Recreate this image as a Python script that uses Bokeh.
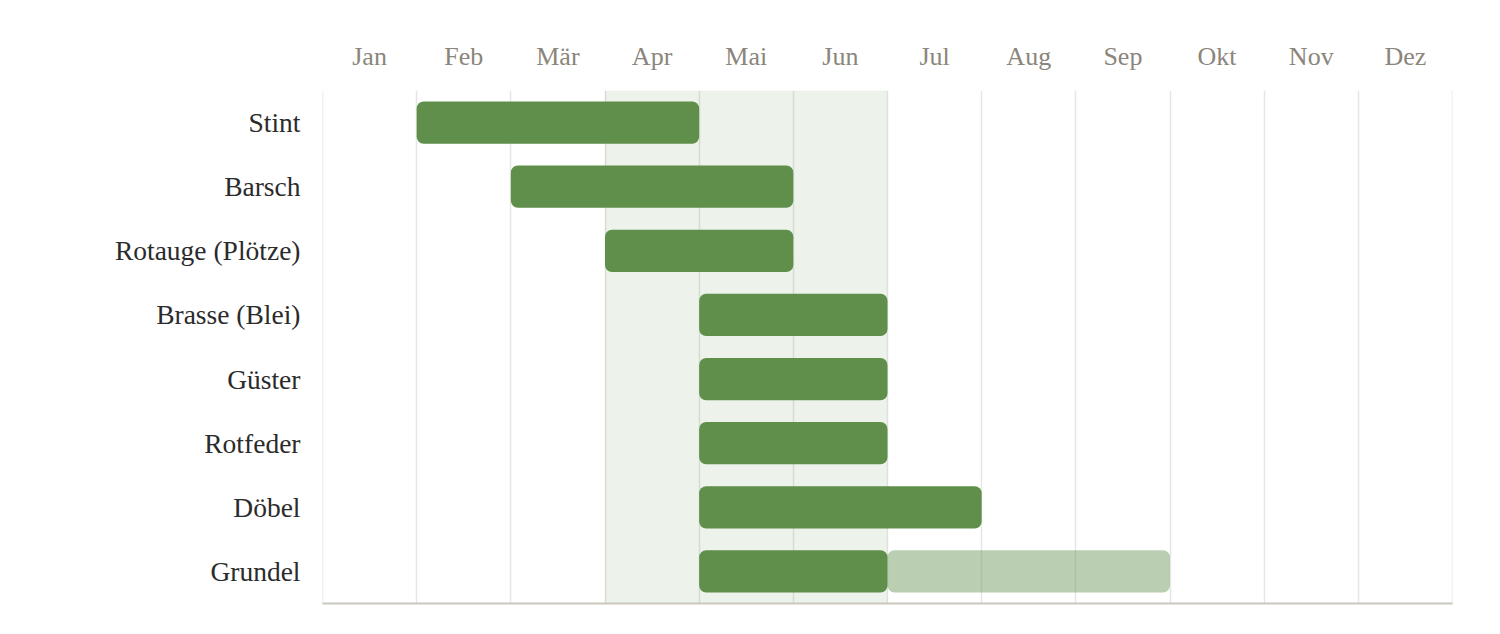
from bokeh.plotting import figure
from bokeh.models import FactorRange, FixedTicker, LinearAxis, Range1d, BoxAnnotation, Span
from bokeh.embed import file_html
from bokeh.resources import INLINE

months = ["Jan", "Feb", "Mär", "Apr", "Mai", "Jun", "Jul", "Aug", "Sep", "Okt", "Nov", "Dez"]
species = ["Stint", "Barsch", "Rotauge (Plötze)", "Brasse (Blei)", "Güster", "Rotfeder", "Döbel", "Grundel"]
# main spawning period: start month index (0 = Jan start), end month index
main_start = [1, 2, 3, 4, 4, 4, 4, 4]
main_end = [4, 5, 5, 6, 6, 6, 7, 6]
# extended period (Grundel)
ext_species = ["Grundel"]
ext_start = [6]
ext_end = [9]
# highlighted season (Apr - Jun)
band_start = 3
band_end = 6

GREEN = "#5f8f4a"
GRID = "#e6e6e6"

p = figure(width=1492, height=626, output_backend="svg", toolbar_location=None,
           x_range=Range1d(0, 12), y_range=FactorRange(factors=list(reversed(species))),
           x_axis_location="above", min_border_left=322, min_border_right=40,
           min_border_top=90, min_border_bottom=23)
p.outline_line_color = None
p.background_fill_color = "white"

band = BoxAnnotation(left=band_start, right=band_end, fill_color=GREEN, fill_alpha=0.11,
                     line_color=None, level="underlay")
p.add_layout(band)

# month boundary lines at the edges of the year
for edge in (0, len(months)):
    p.add_layout(Span(location=edge, dimension="height", line_color=GRID,
                      line_width=1.5, level="underlay"))

p.hbar(y=species, left=main_start, right=main_end, height=0.66, fill_color=GREEN,
       line_color=None, border_radius=7)
p.hbar(y=ext_species, left=ext_start, right=ext_end, height=0.66, fill_color=GREEN,
       fill_alpha=0.43, line_color=None, border_radius=7)

# top axis with month labels
xa = p.xaxis[0]
xa.ticker = FixedTicker(ticks=[i + 0.5 for i in range(12)])
xa.major_label_overrides = {i + 0.5: m for i, m in enumerate(months)}
xa.major_tick_line_color = None
xa.minor_tick_line_color = None
xa.axis_line_color = None
xa.major_label_text_font = "Liberation Serif"
xa.major_label_text_font_size = "26px"
xa.major_label_text_color = "#8b857b"
xa.major_label_standoff = 14

# bottom axis line
ba = LinearAxis(ticker=FixedTicker(ticks=[]), axis_line_color="#cbc7bb", axis_line_width=2,
                major_tick_line_color=None, minor_tick_line_color=None,
                major_label_text_font_size="0px")
p.add_layout(ba, "below")

ya = p.yaxis[0]
ya.axis_line_color = None
ya.major_tick_line_color = None
ya.minor_tick_line_color = None
ya.major_label_text_font = "Liberation Serif"
ya.major_label_text_font_size = "27.5px"
ya.major_label_text_color = "#2b2b2b"
ya.major_label_standoff = 16

p.xgrid.ticker = FixedTicker(ticks=list(range(13)))
p.xgrid.grid_line_color = GRID
p.xgrid.grid_line_width = 1.5
p.ygrid.grid_line_color = None

open("out.html", "w").write(file_html(p, INLINE))
